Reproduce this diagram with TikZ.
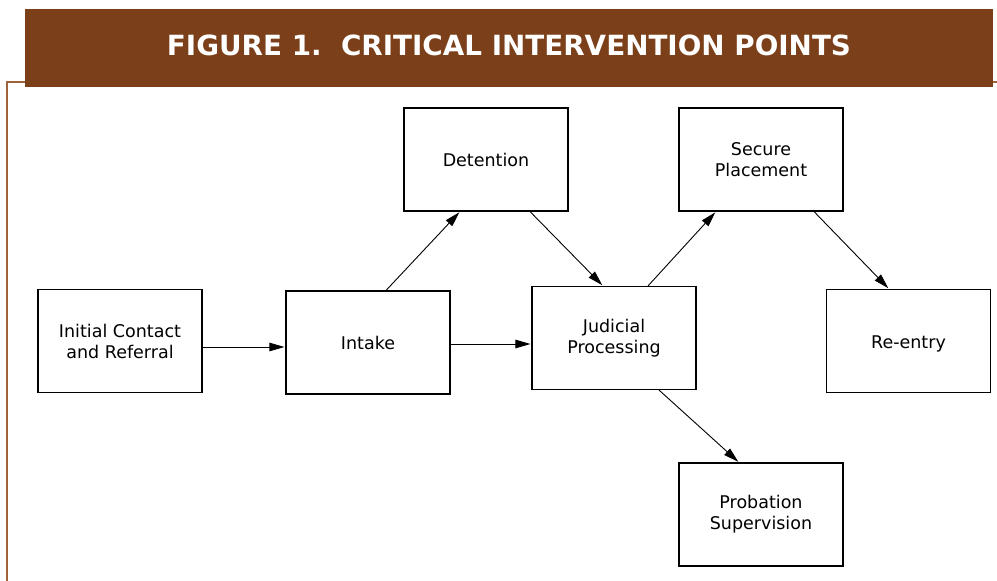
\documentclass[tikz,border=0pt]{standalone}
\usepackage{fontspec}
\setmainfont{DejaVu Sans}
\usetikzlibrary{arrows.meta}
\definecolor{barbrown}{HTML}{7B3F1A}
\definecolor{rulebrown}{HTML}{A0623A}
\tikzset{>={Triangle[length=15pt,width=8.5pt]}}
\tikzset{
  stage/.style={draw,line width=1.1pt,minimum width=164pt,minimum height=103pt,
    align=center,font=\fontsize{17.5}{21}\selectfont,inner sep=0pt},
  flow/.style={->,line width=0.9pt,shorten >=1pt}
}

\begin{document}
\begin{tikzpicture}[x=1pt,y=-1pt]
\useasboundingbox (0,0) rectangle (997,581);

% Frame rule and title bar
\draw[rulebrown,line width=1.4pt] (997,82) -- (7,82) -- (7,581);
\fill[barbrown] (25,9) rectangle (993,87);
\node[white,font=\bfseries\fontsize{27.8}{32}\selectfont] (title) at (509,45)
  {FIGURE 1.\ \ CRITICAL INTERVENTION POINTS};

% Stages
\node[stage] (init) at (120,341) {Initial Contact\\and Referral};
\node[stage] (intake) at (368,342.5) {Intake};
\node[stage] (det) at (486,159.5) {Detention};
\node[stage] (jud) at (614,338) {Judicial\\Processing};
\node[stage] (secure) at (761,159.5) {Secure\\Placement};
\node[stage,text height=18pt] (reentry) at (908.5,341) {Re-entry};
\node[stage] (prob) at (761,514.5) {Probation\\Supervision};

% Arrows between stages
\draw[flow] (init.east |- 0,347) -- (intake.west |- 0,347);
\draw[flow] (intake.east |- 0,344) -- (jud.west |- 0,344);
\draw[flow] ([xshift=18pt]intake.north) -- ([xshift=-26pt]det.south);
\draw[flow] ([xshift=44pt]det.south) -- ([xshift=-11pt]jud.north);
\draw[flow] ([xshift=34pt]jud.north) -- ([xshift=-45pt]secure.south);
\draw[flow] ([xshift=53pt]secure.south) -- ([xshift=-19.5pt]reentry.north);
\draw[flow] ([xshift=45pt]jud.south) -- ([xshift=-22pt]prob.north);
\end{tikzpicture}
\end{document}
